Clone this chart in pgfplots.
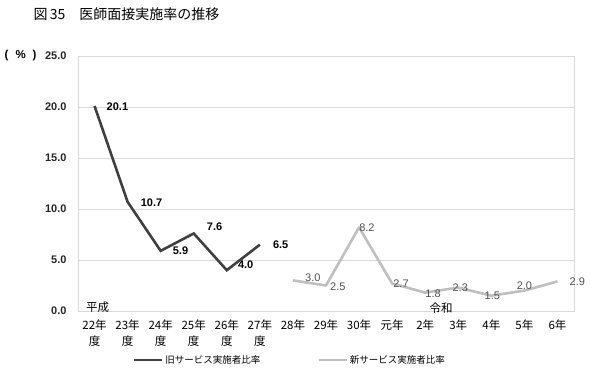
\documentclass[border=0pt]{standalone}
\usepackage{pgfplots}
\pgfplotsset{compat=1.18}
\usepackage{fontspec}
\setmainfont{Liberation Sans}
\newfontfamily\cjk{Noto Sans CJK JP}
\definecolor{oldc}{HTML}{404040}
\definecolor{newc}{HTML}{BFBFBF}
\definecolor{gridc}{HTML}{D9D9D9}
\definecolor{lblnew}{HTML}{505050}
\begin{document}
\begin{tikzpicture}
\path[use as bounding box] (0pt,0pt) rectangle (600pt,380pt);
% title
\node[anchor=west,font=\cjk\fontsize{14}{16}\selectfont] at (30pt,366pt) {図\,35\quad 医師面接実施率の推移};
\node[anchor=west,inner sep=0pt,font=\fontsize{11.5}{13}\selectfont\bfseries] at (4.5pt,324pt) {(\hspace{7pt}\%\hspace{7pt})};
\begin{axis}[
  at={(78pt,69pt)}, anchor=south west,
  scale only axis, width=496pt, height=255pt,
  xmin=-0.5, xmax=14.5, ymin=0, ymax=25,
  ytick={0,5,10,15,20,25},
  xtick={0,...,14},
  xticklabels={{22年\\度},{23年\\度},{24年\\度},{25年\\度},{26年\\度},{27年\\度},28年,29年,30年,元年,2年,3年,4年,5年,6年},
  xticklabel style={align=center,font=\cjk\fontsize{11.5}{16.5}\selectfont,yshift=-5pt},
  yticklabel style={font=\fontsize{11}{13}\selectfont\bfseries,xshift=-8pt,text=black!85},
  /pgf/number format/.cd, fixed, fixed zerofill, precision=1, assume math mode=true,
  /pgfplots/.cd,
  tick style={draw=none},
  ymajorgrids, grid style={gridc,line width=0.8pt},
  axis line style={gridc,line width=0.8pt},
  clip=false,
  legend style={at={(0.427,-0.192)},anchor=center,draw=none,fill=none,
    legend columns=2,font=\cjk\fontsize{9.5}{11}\selectfont,
    /tikz/every even column/.append style={column sep=55pt},
    inner sep=0pt},
  legend image code/.code={\draw[#1] (0pt,0pt) -- (28pt,0pt);},
]
\addplot[oldc,line width=2.6pt,line join=miter] coordinates {(0,20.1) (1,10.7) (2,5.9) (3,7.6) (4,4.0) (5,6.5)};
\addlegendentry{旧サービス実施者比率}
\addplot[newc,line width=2.6pt,line join=round] coordinates {(6,3.0) (7,2.5) (8,8.2) (9,2.7) (10,1.8) (11,2.3) (12,1.5) (13,2.0) (14,2.9)};
\addlegendentry{新サービス実施者比率}
\begin{scope}[every node/.style={font=\fontsize{11}{13}\selectfont\bfseries,inner sep=0pt,text=black}]
\node[anchor=west,xshift=12pt,yshift=-1pt] at (axis cs:0,20.1) {20.1};
\node[anchor=west,xshift=13pt,yshift=-1pt] at (axis cs:1,10.7) {10.7};
\node[anchor=west,xshift=12pt] at (axis cs:2,5.9) {5.9};
\node[anchor=west,xshift=13pt,yshift=7pt] at (axis cs:3,7.6) {7.6};
\node[anchor=west,xshift=11pt,yshift=5pt] at (axis cs:4,4.0) {4.0};
\node[anchor=west,xshift=13pt] at (axis cs:5,6.5) {6.5};
\end{scope}
\begin{scope}[every node/.style={font=\fontsize{11}{13}\selectfont,inner sep=0pt,text=lblnew}]
\node[anchor=west,xshift=12pt,yshift=3pt] at (axis cs:6,3.0) {3.0};
\node[anchor=west,xshift=4pt,yshift=-1pt] at (axis cs:7,2.5) {2.5};
\node[anchor=west,xshift=0pt] at (axis cs:8,8.2) {8.2};
\node[anchor=west,xshift=1pt] at (axis cs:9,2.7) {2.7};
\node[anchor=west,xshift=0pt,yshift=-1pt] at (axis cs:10,1.8) {1.8};
\node[anchor=center,xshift=2pt] at (axis cs:11,2.3) {2.3};
\node[anchor=center,xshift=1pt] at (axis cs:12,1.5) {1.5};
\node[anchor=center,yshift=4.5pt] at (axis cs:13,2.0) {2.0};
\node[anchor=west,xshift=12pt] at (axis cs:14,2.9) {2.9};
\end{scope}
\node[font=\cjk\fontsize{11.5}{13}\selectfont] at (axis cs:0.09,0.4) {平成};
\node[font=\cjk\fontsize{11.5}{13}\selectfont] at (axis cs:10.48,0.3) {令和};
\end{axis}
\end{tikzpicture}
\end{document}
